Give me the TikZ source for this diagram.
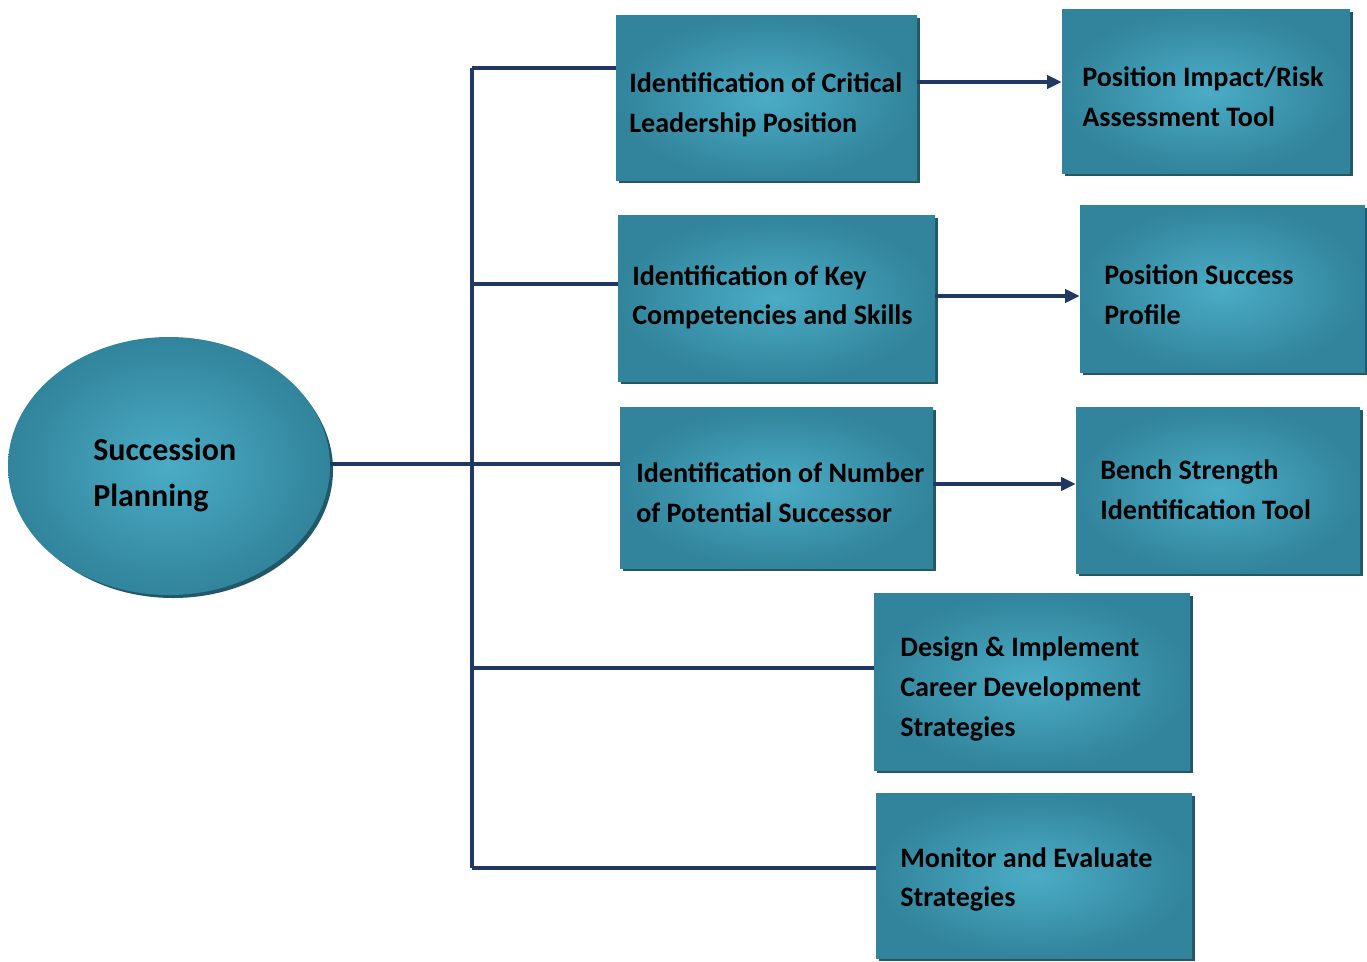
\documentclass[tikz,border=0pt]{standalone}
\usepackage{fontspec}
\setmainfont{Carlito}
\usetikzlibrary{arrows.meta,shapes.geometric}
\definecolor{tealout}{HTML}{31849B}
\definecolor{tealin}{HTML}{4BACC6}
\definecolor{shad}{HTML}{215868}
\definecolor{navy}{HTML}{1F3864}
\tikzset{
  box/.style={draw=none, rectangle, inner sep=0pt, inner color=tealin, outer color=tealout},
  txt/.style={anchor=west, align=left, inner sep=0pt, font=\fontsize{21.1}{29.7}\selectfont\bfseries, text=black},
  bigtxt/.style={txt, font=\fontsize{24}{33.8}\selectfont\bfseries},
  conn/.style={draw=navy, line width=2.5pt},
  arr/.style={conn, -{Triangle[length=11pt,width=10pt]}},
}
\begin{document}
\begin{tikzpicture}[x=0.75pt,y=-0.75pt]
\useasboundingbox (0,0) rectangle (1367,961);
% shadows
\fill[shad] (173,470) ellipse [x radius=160, y radius=128];
\foreach \a/\b/\c/\d in {616/15/917/180, 1062/9/1350/173, 618/215/935/381, 1080/205/1365/372, 620/407/933/568, 1076/407/1360/573, 874/593/1190/770, 876/793/1192/958}
  \fill[shad] (\a+3,\b+3) rectangle (\c+3,\d+3);
% main ellipse
\node[ellipse, inner sep=0pt, minimum width=322*0.75pt, minimum height=258*0.75pt, inner color=tealin, outer color=tealout] (sp) at (169,466) {};
\node[bigtxt] (spt) at (93,475) {Succession\\Planning};
% boxes
\node[box, minimum width=301*0.75pt, minimum height=165*0.75pt] (b1) at (766.5,97.5) {};
\node[box, minimum width=288*0.75pt, minimum height=164*0.75pt] (a1) at (1206,91) {};
\node[box, minimum width=317*0.75pt, minimum height=166*0.75pt] (b2) at (776.5,298) {};
\node[box, minimum width=285*0.75pt, minimum height=167*0.75pt] (a2) at (1222.5,288.5) {};
\node[box, minimum width=313*0.75pt, minimum height=161*0.75pt] (b3) at (776.5,487.5) {};
\node[box, minimum width=284*0.75pt, minimum height=166*0.75pt] (a3) at (1218,490) {};
\node[box, minimum width=316*0.75pt, minimum height=177*0.75pt] (b4) at (1032,681.5) {};
\node[box, minimum width=316*0.75pt, minimum height=165*0.75pt] (b5) at (1034,875.5) {};
% texts
\node[txt] (t1) at (629,105) {Identification of Critical\\Leadership Position};
\node[txt] (u1) at (1082,97) {Position Impact/Risk\\Assessment Tool};
\node[txt] (t2) at (632,297.5) {Identification of Key\\Competencies and Skills};
\node[txt] (u2) at (1104,295) {Position Success\\Profile};
\node[txt] (t3) at (636,493) {Identification of Number\\of Potential Successor};
\node[txt] (u3) at (1100,489.5) {Bench Strength\\Identification Tool};
\node[txt] (t4) at (900,689) {Design \& Implement\\Career Development\\Strategies};
\node[txt] (t5) at (900,879.5) {Monitor and Evaluate\\Strategies};
% connectors
\coordinate (top) at (472,68);
\coordinate (bot) at (472,868);
\draw[conn] (top) -- (bot);
\draw[conn] (sp.east |- 0,464) -- (b3.west |- 0,464);
\draw[conn] (top) -- (b1.west |- top);
\draw[conn] (472,284) -- (b2.west |- 0,284);
\draw[conn] (472,668) -- (b4.west |- 0,668);
\draw[conn] (bot) -- (b5.west |- bot);
\draw[arr] (b1.east |- 0,82) -- (a1.west |- 0,82);
\draw[arr] (b2.east |- 0,296) -- (a2.west |- 0,296);
\draw[arr] (b3.east |- 0,484) -- (a3.west |- 0,484);
\end{tikzpicture}
\end{document}
